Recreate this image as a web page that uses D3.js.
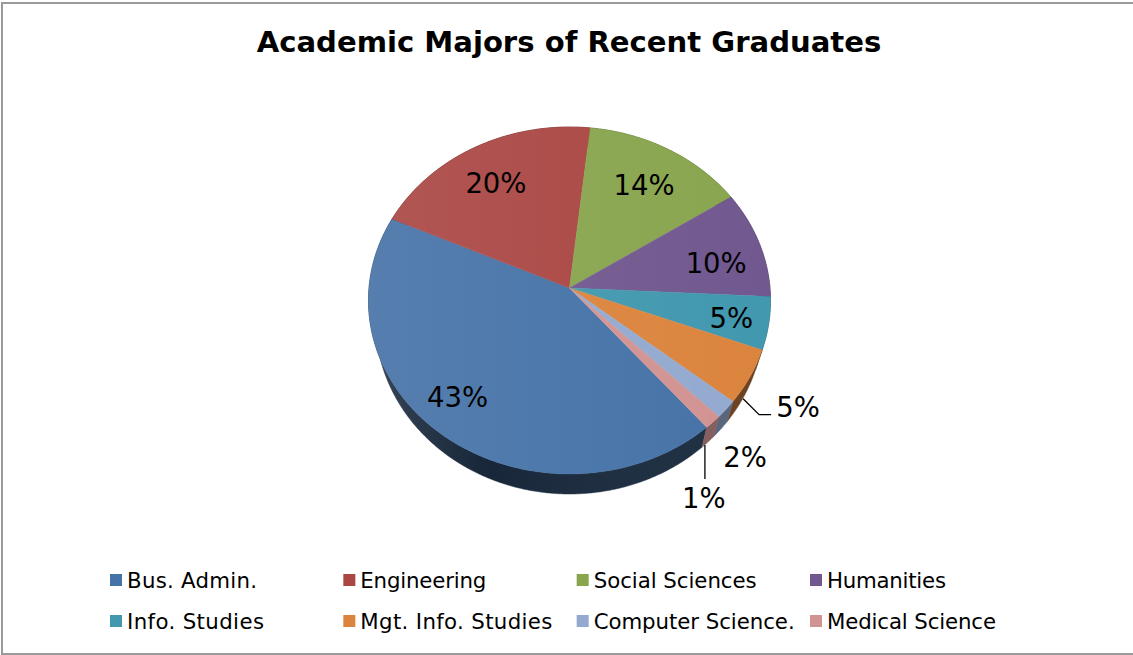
<!DOCTYPE html>
<html><head><meta charset="utf-8">
<script src="https://cdn.jsdelivr.net/npm/d3@7"></script>
<style>html,body{margin:0;padding:0;background:#fff}svg{display:block}text{font-family:"DejaVu Sans",Verdana,sans-serif;fill:#000}</style>
</head><body><script>
const chartTitle = "Academic Majors of Recent Graduates";
const categories = ["Bus. Admin.","Engineering","Social Sciences","Humanities","Info. Studies","Mgt. Info. Studies","Computer Science.","Medical Science"];
const shares = [42.9,20,14,10,4.9,5.1,1.7,1.3];
const shareLabels = ["43%","20%","14%","10%","5%","5%","2%","1%"];
const colors = ["#4572A7","#AA4643","#89A54E","#71588F","#4198AF","#DB843D","#93A9CF","#D19392"];

const W=1133,H=655;
const cx=569.5,cy=288,b=200.5,a=172.6,k=0.072,depth=20,sideScale=.965;
const startDeg=139.7;
const labelFrac=[.7,.7,.7,.7,.7,1,1,1];
const labelNudge=[[-24,8],[-7,-4],[4,-4],[13,6],[23,5],[48,30],[19,48],[-9,76]];
const sideShade=[.38,.5,.5,.5,.5,.48,.58,.62];
const legendTextWidths=[130,126,163,119,137,192,201,169];

const svg=d3.select("body").append("svg").attr("width",W).attr("height",H);
const defs=svg.append("defs");
svg.append("rect").attr("x",2).attr("y",3).attr("width",W+4).attr("height",H-4)
  .attr("fill","#fff").attr("stroke","#9a9a9a").attr("stroke-width",2);

function project(t,f){const X=f*Math.sin(t),Y=-f*Math.cos(t),d=1-k*Y;return [cx+b*X/d,cy+a*Y/d];}
const pie=d3.pie().sort(null).startAngle(startDeg*Math.PI/180).endAngle((startDeg+360)*Math.PI/180);
const arcs=pie(shares);
const line=d3.line();
function rim(s){const n=Math.max(4,Math.ceil((s.endAngle-s.startAngle)*120));
  return d3.range(n+1).map(i=>project(s.startAngle+(s.endAngle-s.startAngle)*i/n,1));}

const fg=defs.append("linearGradient").attr("id","faceShade").attr("gradientUnits","userSpaceOnUse")
  .attr("x1",cx-b).attr("x2",cx+b).attr("y1",0).attr("y2",0);
fg.append("stop").attr("offset",0).attr("stop-color","#fff").attr("stop-opacity",.09);
fg.append("stop").attr("offset",1).attr("stop-color","#fff").attr("stop-opacity",0);
const sg=defs.append("linearGradient").attr("id","sideShade").attr("gradientUnits","userSpaceOnUse")
  .attr("x1",cx-b).attr("x2",cx+b).attr("y1",0).attr("y2",0);
sg.append("stop").attr("offset",0).attr("stop-color","#fff").attr("stop-opacity",.14);
sg.append("stop").attr("offset",.3).attr("stop-color","#000").attr("stop-opacity",.1);
sg.append("stop").attr("offset",1).attr("stop-color","#fff").attr("stop-opacity",.02);

const gSide=svg.append("g"),gFace=svg.append("g");
arcs.forEach((s,i)=>{
  const r=rim(s);
  const band=r.concat(r.slice().reverse().map(p=>[cx+(p[0]-cx)*sideScale,p[1]+depth]));
  const c=d3.rgb(colors[i]),m=sideShade[i];
  const side=d3.rgb(c.r*m,c.g*m,c.b*m);
  gSide.append("path").attr("d",line(band)+"Z").attr("fill",side).attr("stroke",side).attr("stroke-width",.5);
  gSide.append("path").attr("d",line(band)+"Z").attr("fill","url(#sideShade)");
});
arcs.forEach((s,i)=>{
  const d=line([[cx,cy],...rim(s)])+"Z";
  gFace.append("path").attr("d",d).attr("fill",colors[i]).attr("stroke",colors[i]).attr("stroke-width",.4);
  gFace.append("path").attr("d",d).attr("fill","url(#faceShade)");
});

svg.append("text").attr("x",569).attr("y",52).attr("text-anchor","middle")
  .attr("font-size",29.1).attr("font-weight","bold").text(chartTitle);

arcs.forEach((s,i)=>{
  const p=project((s.startAngle+s.endAngle)/2,labelFrac[i]);
  svg.append("text").attr("x",p[0]+labelNudge[i][0]).attr("y",p[1]+labelNudge[i][1])
    .attr("text-anchor","middle").attr("dominant-baseline","central").attr("font-size",27.5).text(shareLabels[i]);
});

// leader lines for the two outside labels that have one
const mid=s=>(s.startAngle+s.endAngle)/2;
const o=project(mid(arcs[5]),1), q=project(mid(arcs[7]),1);
svg.append("path").attr("fill","none").attr("stroke","#000").attr("stroke-width",1.3)
  .attr("d",line([[o[0]-7,o[1]+22],[o[0]+9,o[1]+38],[o[0]+21,o[1]+38]]));
svg.append("path").attr("fill","none").attr("stroke","#000").attr("stroke-width",1.3)
  .attr("d",line([[q[0]-8,q[1]+23],[q[0]-8,q[1]+57]]));

// legend
const colX=d3.scaleLinear().domain([0,3]).range([110,810]);
const rowY=d3.scaleLinear().domain([0,1]).range([580,621]);
categories.forEach((c,i)=>{
  const x=colX(i%4),y=rowY(Math.floor(i/4));
  svg.append("rect").attr("x",x).attr("y",y-6).attr("width",12).attr("height",12).attr("fill",colors[i]);
  svg.append("text").attr("x",x+17).attr("y",y).attr("dominant-baseline","central").attr("font-size",21.3)
    .attr("textLength",legendTextWidths[i]).attr("lengthAdjust","spacing").text(c);
});
</script></body></html>
